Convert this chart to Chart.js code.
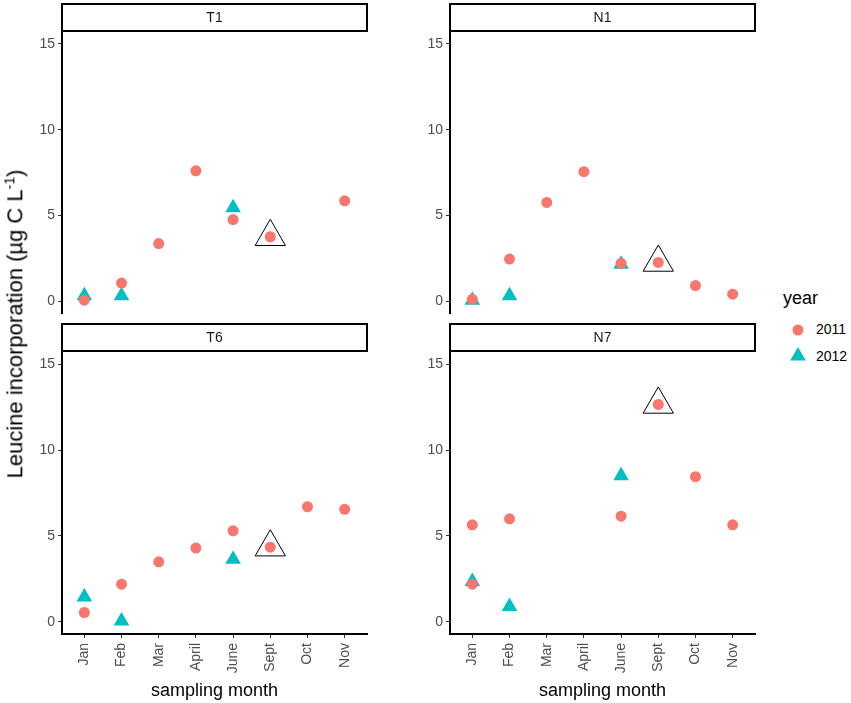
<!DOCTYPE html>
<html>
<head>
<meta charset="utf-8">
<script src="https://cdn.jsdelivr.net/npm/chart.js@4/dist/chart.umd.min.js"></script>
<style>
    body { margin: 0; background: #fff; font-family: "Liberation Sans", Arial, sans-serif; }
    #wrap { position: relative; width: 851px; height: 703px; overflow: hidden; }
    .panel { position: absolute; }
    #ytitle {
        position: absolute; left: 15px; top: 324px;
        transform: translate(-50%, -50%) rotate(-90deg);
        white-space: nowrap; font-size: 22px; color: #000;
    }
    #ytitle sup { font-size: 14px; }
    #legend { position: absolute; left: 783px; top: 288px; }
    .leg-title { position: absolute; left: 0; top: 0; font-size: 18px; white-space: nowrap; }
    .leg-item { position: absolute; left: 33px; font-size: 14px; white-space: nowrap; }
    #legend svg { position: absolute; left: 0; top: 0; }
</style>
</head>
<body>
<div id="wrap">
    <div class="panel" style="left:20px;top:0px;width:350px;height:320px"><canvas id="c-t1"></canvas></div>
    <div class="panel" style="left:408px;top:0px;width:350px;height:320px"><canvas id="c-n1"></canvas></div>
    <div class="panel" style="left:20px;top:320px;width:350px;height:383px"><canvas id="c-t6"></canvas></div>
    <div class="panel" style="left:408px;top:320px;width:350px;height:383px"><canvas id="c-n7"></canvas></div>
    <div id="ytitle">Leucine incorporation (µg C L<sup>-1</sup>)</div>
    <div id="legend">
        <svg width="30" height="80">
            <circle cx="15" cy="42" r="5.5" fill="#F8766D"></circle>
            <polygon points="15,59 22.8,72.5 7.2,72.5" fill="#00BFC4"></polygon>
        </svg>
        <div class="leg-title">year</div>
        <div class="leg-item" style="top:33px">2011</div>
        <div class="leg-item" style="top:60px">2012</div>
    </div>
</div>
<script>
const months = ['Jan', 'Feb', 'Mar', 'April', 'June', 'Sept', 'Oct', 'Nov'];
const yTicks = [0, 5, 10, 15];

// values per site, one entry per month (null = not sampled)
const t1_2011 = [0.05, 1.05, 3.35, 7.6, 4.75, 3.75, null, 5.85];
const t1_2012 = [0.3, 0.3, null, null, 5.45, null, null, null];
const n1_2011 = [0.1, 2.45, 5.75, 7.55, 2.2, 2.25, 0.9, 0.4];
const n1_2012 = [0.05, 0.3, null, null, 2.15, null, null, null];
const t6_2011 = [0.55, 2.2, 3.5, 4.3, 5.3, 4.35, 6.7, 6.55];
const t6_2012 = [1.45, 0.05, null, null, 3.65, null, null, null];
const n7_2011 = [5.65, 6.0, null, null, 6.15, 12.65, 8.45, 5.65];
const n7_2011_extra = [2.2, null, null, null, null, null, null, null];
const n7_2012 = [2.35, 0.9, null, null, 8.5, null, null, null];

const highlightMonth = 'Sept';

const RED = '#F8766D';
const TEAL = '#00BFC4';
const FONT = '"Liberation Sans", Arial, sans-serif';

Chart.defaults.font.family = FONT;

function toPoints(vals) {
    const pts = [];
    vals.forEach((v, i) => {
        if (v !== null) pts.push({ x: i + 1, y: v });
    });
    return pts;
}

// facet strip drawn above the plot area
const stripPlugin = {
    id: 'strip',
    afterDraw(chart, args, opts) {
        const ctx = chart.ctx;
        const a = chart.chartArea;
        ctx.save();
        ctx.fillStyle = '#fff';
        ctx.strokeStyle = '#000';
        ctx.lineWidth = 2;
        ctx.fillRect(a.left, 4, a.right - a.left, 27);
        ctx.strokeRect(a.left, 4, a.right - a.left, 27);
        ctx.fillStyle = '#1a1a1a';
        ctx.font = '14px ' + FONT;
        ctx.textAlign = 'center';
        ctx.textBaseline = 'middle';
        ctx.fillText(opts.label, (a.left + a.right) / 2, 18);
        ctx.restore();
    }
};

function makePanel(id, label, vals2011, vals2012, extra2011, bottomRow) {
    const hi = months.indexOf(highlightMonth);
    const datasets = [
        {
            label: '2011',
            data: toPoints(vals2011).concat(extra2011 ? toPoints(extra2011) : []),
            pointStyle: 'circle',
            pointRadius: 5.5,
            backgroundColor: RED,
            borderWidth: 0
        },
        {
            label: '2012',
            data: toPoints(vals2012),
            pointStyle: 'triangle',
            pointRadius: 9,
            backgroundColor: TEAL,
            borderWidth: 0
        },
        {
            label: 'highlight',
            data: [{ x: hi + 1, y: vals2011[hi] }],
            pointStyle: 'triangle',
            pointRadius: 17.5,
            backgroundColor: 'rgba(0,0,0,0)',
            borderColor: '#000',
            borderWidth: 1
        }
    ];

    return new Chart(document.getElementById(id), {
        type: 'scatter',
        data: { datasets },
        options: {
            responsive: true,
            maintainAspectRatio: false,
            animation: false,
            layout: {
                autoPadding: false,
                padding: { top: 32, right: 3, left: 0, bottom: bottomRow ? 0 : 7 }
            },
            plugins: {
                legend: { display: false },
                tooltip: { enabled: false },
                strip: { label }
            },
            scales: {
                x: {
                    type: 'linear',
                    display: bottomRow,
                    min: 0.4,
                    max: 8.6,
                    afterBuildTicks: axis => { axis.ticks = months.map((m, i) => ({ value: i + 1 })); },
                    afterFit: scale => {
                        scale.paddingLeft = 0;
                        scale.paddingRight = 0;
                        if (bottomRow) scale.height = 69;
                    },
                    border: { display: true, color: '#000', width: 2 },
                    grid: { drawOnChartArea: false, drawTicks: true, tickLength: 4, tickColor: '#333', tickWidth: 1 },
                    ticks: {
                        autoSkip: false,
                        minRotation: 90,
                        maxRotation: 90,
                        padding: 5,
                        color: '#4d4d4d',
                        font: { size: 14 },
                        callback: v => months[v - 1]
                    },
                    title: {
                        display: true,
                        text: 'sampling month',
                        color: '#000',
                        font: { size: 18 },
                        padding: { top: 2, bottom: 1 }
                    }
                },
                y: {
                    min: -0.7,
                    max: 15.7,
                    afterBuildTicks: axis => { axis.ticks = yTicks.map(v => ({ value: v })); },
                    afterFit: scale => {
                        scale.width = 42;
                        scale.paddingTop = 0;
                        scale.paddingBottom = 0;
                    },
                    border: { display: true, color: '#000', width: 2 },
                    grid: { drawOnChartArea: false, drawTicks: true, tickLength: 4, tickColor: '#333', tickWidth: 1 },
                    ticks: { color: '#4d4d4d', font: { size: 14 }, padding: 3 }
                }
            }
        },
        plugins: [stripPlugin]
    });
}

document.addEventListener('DOMContentLoaded', () => {
    makePanel('c-t1', 'T1', t1_2011, t1_2012, null, false);
    makePanel('c-n1', 'N1', n1_2011, n1_2012, null, false);
    makePanel('c-t6', 'T6', t6_2011, t6_2012, null, true);
    makePanel('c-n7', 'N7', n7_2011, n7_2012, n7_2011_extra, true);
});
</script>
</body>
</html>
